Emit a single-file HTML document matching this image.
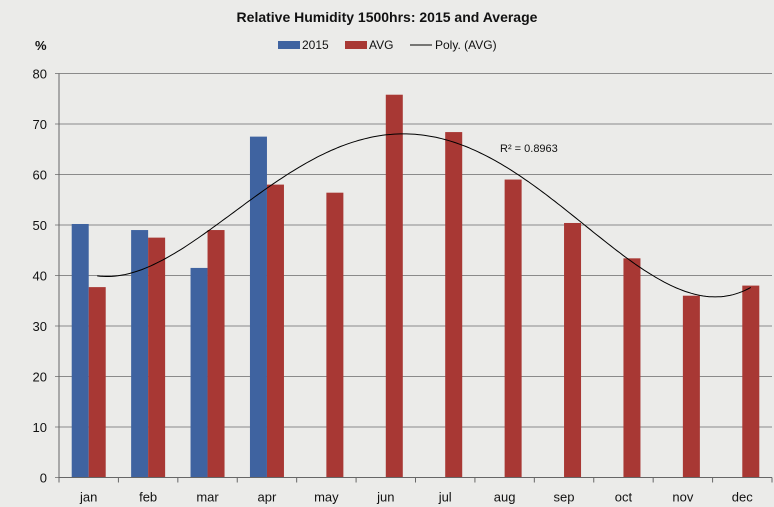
<!DOCTYPE html>
<html><head><meta charset="utf-8"><style>
body{margin:0;background:#ebebe9;}
svg{display:block;font-family:"Liberation Sans",sans-serif;}
</style></head><body>
<svg id="c" width="774" height="507">
<rect width="774" height="507" fill="#ebebe9"/>
<text x="387" y="22" text-anchor="middle" font-size="14" font-weight="bold" fill="#111">Relative Humidity 1500hrs: 2015 and Average</text>
<text x="35" y="50" font-size="13" font-weight="bold" fill="#111">%</text>
<g>
<rect x="278" y="41" width="22" height="8" fill="#3f63a0"/>
<text x="302" y="49" font-size="12" fill="#111">2015</text>
<rect x="345" y="41" width="22" height="8" fill="#a83834"/>
<text x="369" y="49" font-size="12" fill="#111">AVG</text>
<line x1="410" y1="45" x2="432" y2="45" stroke="#000" stroke-width="1"/>
<text x="435" y="49" font-size="12" fill="#111">Poly. (AVG)</text>
</g>
<g id="grid"></g><g id="bars"></g><g id="trend"></g><g id="axes"></g>
<text x="500" y="152" font-size="11" fill="#111">R² = 0.8963</text>
</svg>
<script>
const categories=["jan","feb","mar","apr","may","jun","jul","aug","sep","oct","nov","dec"];
const series2015=[50.2,49,41.5,67.5,null,null,null,null,null,null,null,null];
const seriesAvg=[37.7,47.5,49,58,56.4,75.8,68.4,59,50.4,43.4,36,38];
const yTicks=[0,10,20,30,40,50,60,70,80];
const NS="http://www.w3.org/2000/svg";
const L=59,R=772,T=73.5,B=477.5,yMax=80;
const cw=(R-L)/categories.length;
const y=v=>B-(v/yMax)*(B-T);
const xc=i=>L+cw*(i+0.5);
function mk(tag,at,parent){const e=document.createElementNS(NS,tag);for(const k in at)e.setAttribute(k,at[k]);document.getElementById(parent).appendChild(e);return e;}
yTicks.forEach(t=>{
 const g=mk("line",{x1:L-4,x2:R,y1:y(t),y2:y(t),stroke:"#8a8a8a","stroke-width":1},"grid");
 
 
 const tx=mk("text",{x:L-12,y:y(t)+5,"text-anchor":"end","font-size":13,fill:"#111"},"axes");
 tx.textContent=t;
 
 
});
const bw=17;
categories.forEach((c,i)=>{
 if(series2015[i]!=null){
  const r=mk("rect",{x:xc(i)-bw,y:y(series2015[i]),width:bw,height:B-y(series2015[i]),fill:"#3f63a0"},"bars");
  
  
 }
 const r2=mk("rect",{x:xc(i),y:y(seriesAvg[i]),width:bw,height:B-y(seriesAvg[i]),fill:"#a83834"},"bars");
 
 
 const tx=mk("text",{x:xc(i),y:B+24,"text-anchor":"middle","font-size":13,fill:"#111"},"axes");
 tx.textContent=c;
 
 
});
for(let i=0;i<=categories.length;i++){
 const tk=mk("line",{x1:L+cw*i,x2:L+cw*i,y1:B,y2:B+5,stroke:"#666"},"axes");
 
 
}
const ax=mk("line",{x1:L,x2:L,y1:T,y2:B,stroke:"#666"},"axes");


const xax=mk("line",{x1:L,x2:R,y1:B,y2:B,stroke:"#666"},"axes");


// polynomial (degree 4) least squares fit of AVG
function polyfit(xs,ys,d){const n=d+1;const A=[];for(let r=0;r<n;r++){A.push([]);for(let c=0;c<n;c++){let s=0;xs.forEach(x=>s+=Math.pow(x,r+c));A[r].push(s);}let s=0;xs.forEach((x,k)=>s+=Math.pow(x,r)*ys[k]);A[r].push(s);}
for(let i=0;i<n;i++){let p=i;for(let k=i+1;k<n;k++)if(Math.abs(A[k][i])>Math.abs(A[p][i]))p=k;[A[i],A[p]]=[A[p],A[i]];for(let k=0;k<n;k++){if(k===i)continue;const f=A[k][i]/A[i][i];for(let j=i;j<=n;j++)A[k][j]-=f*A[i][j];}}
return A.map((r,i)=>r[n]/r[i]);}
const xs=categories.map((c,i)=>i+1);
const co=polyfit(xs,seriesAvg,4);
const f=x=>co.reduce((s,c,i)=>s+c*Math.pow(x,i),0);
let d="";
for(let t=1;t<=12.0001;t+=0.05){const px=xc(t-1)+bw/2;d+=(d?"L":"M")+px.toFixed(1)+","+y(f(t)).toFixed(1);}
const p=mk("path",{d:d,fill:"none",stroke:"#000","stroke-width":1},"trend");


</script>
</body></html>
